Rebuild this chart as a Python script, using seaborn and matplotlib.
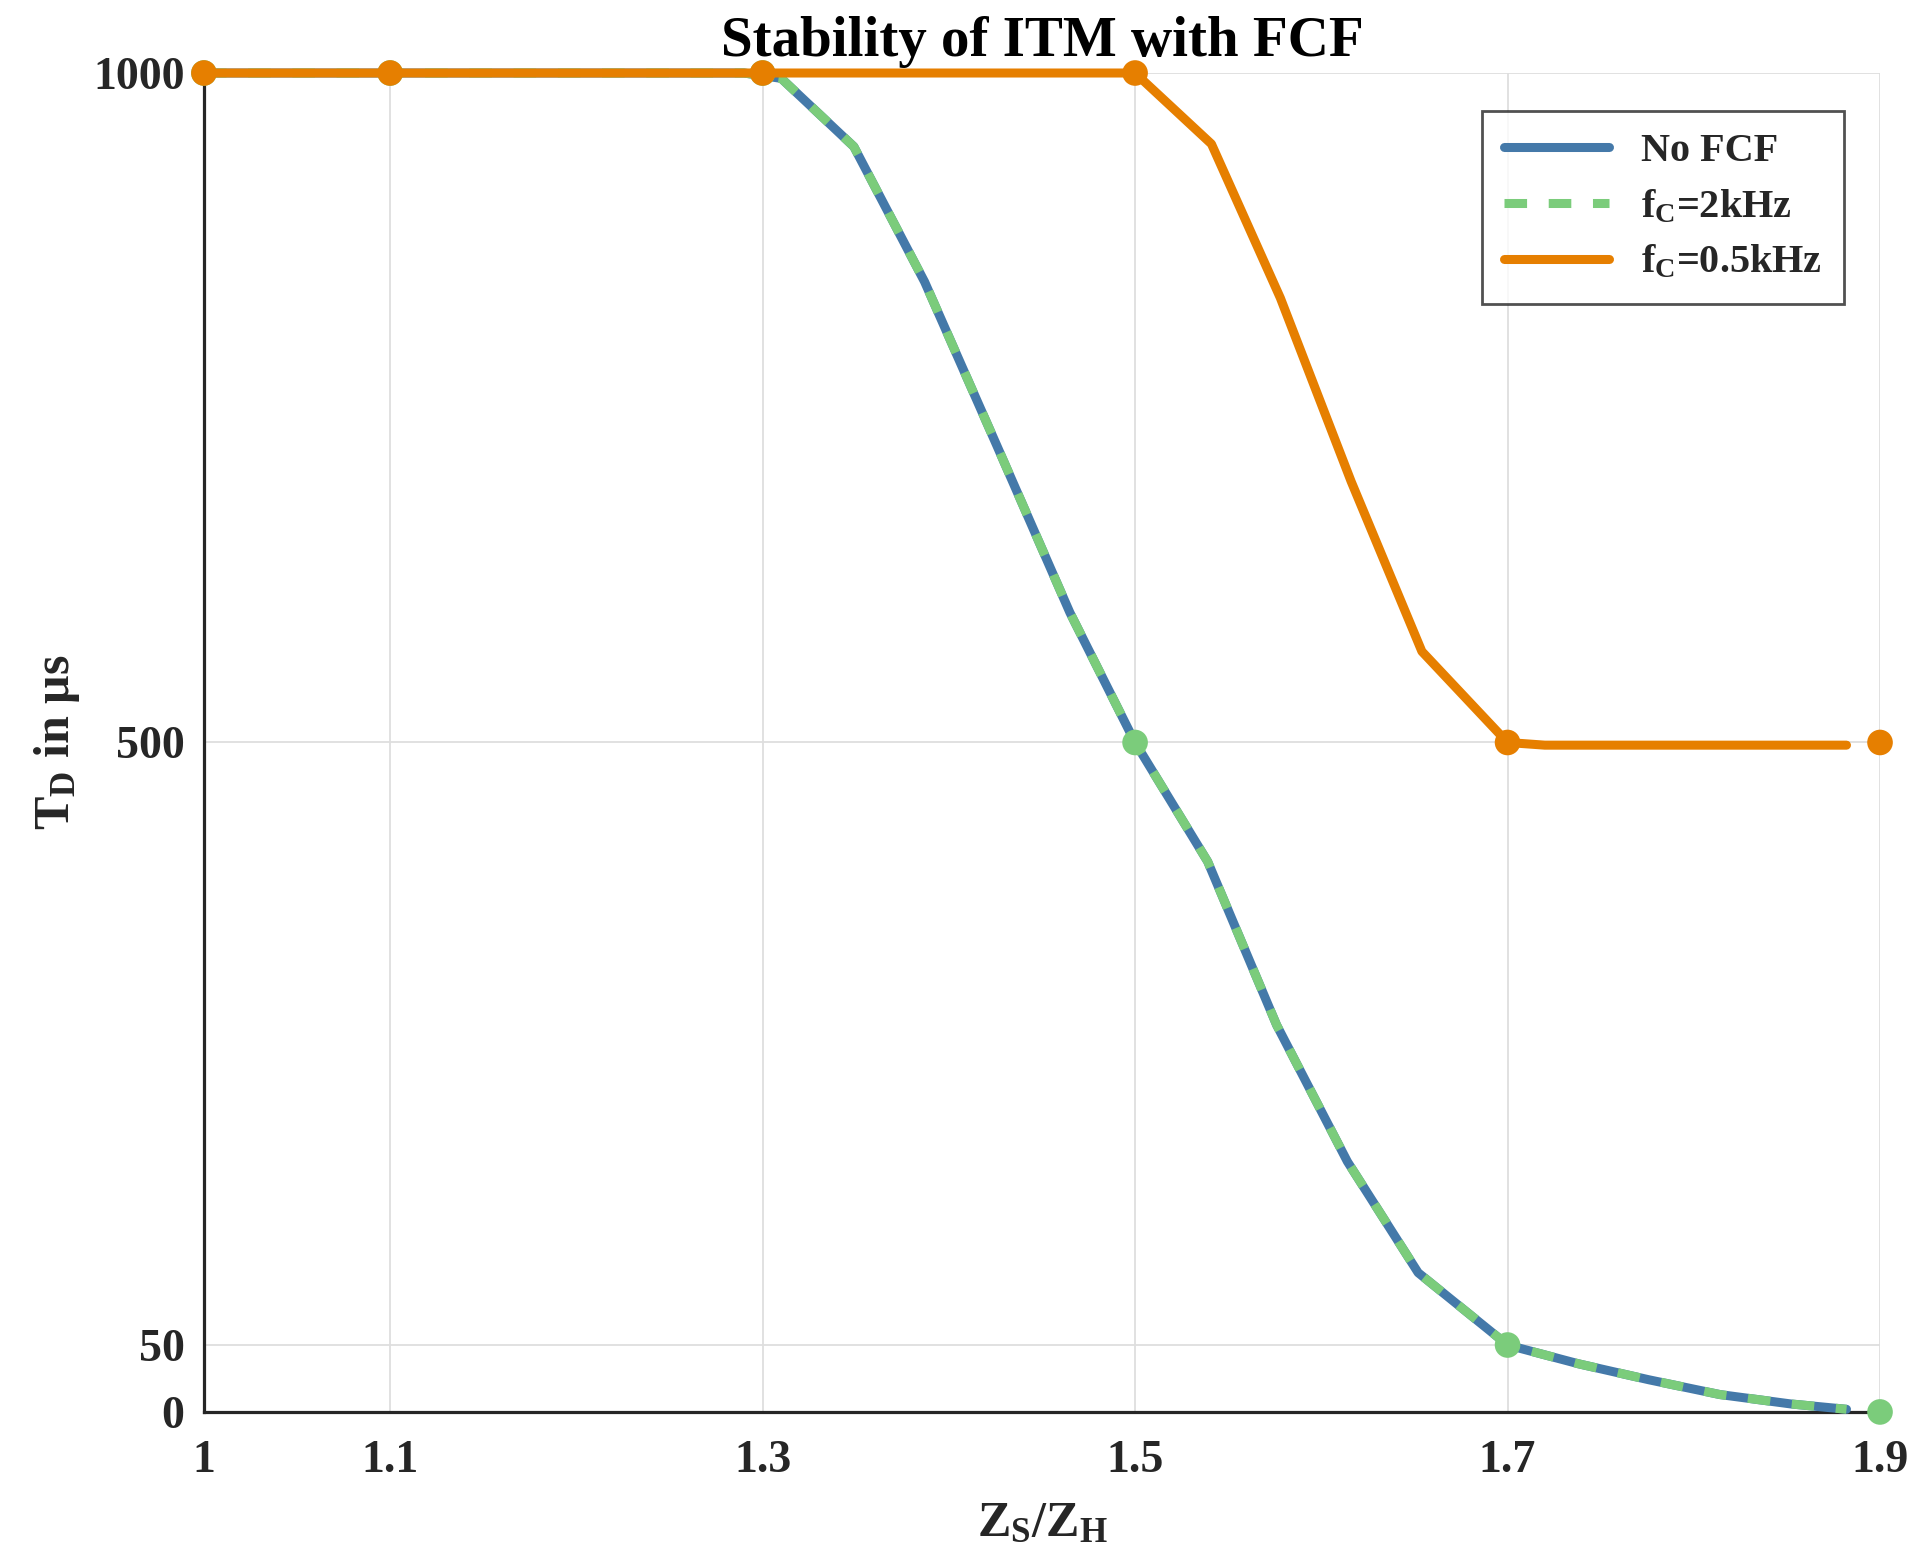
import numpy as np
import pandas as pd
import matplotlib
matplotlib.use("Agg")
import matplotlib.pyplot as plt
import seaborn as sns

# Z_S/Z_H ratio and delay T_D (us)
zr_nofcf = [1.0, 1.29, 1.31, 1.349, 1.387, 1.426, 1.465, 1.5, 1.539, 1.576,
            1.614, 1.652, 1.7, 1.738, 1.776, 1.814, 1.852, 1.882]
td_nofcf = [1000, 1000, 996, 945, 844, 721, 597, 500, 411, 289,
            187, 104, 50, 36, 24, 13, 6, 2]

zr_2k = [1.0, 1.29, 1.31, 1.349, 1.387, 1.426, 1.465, 1.5, 1.539, 1.576,
         1.614, 1.652, 1.7, 1.738, 1.776, 1.814, 1.852, 1.882]
td_2k = [1000, 1000, 996, 945, 844, 721, 597, 500, 411, 289,
         187, 104, 50, 36, 24, 13, 6, 2]

zr_05k = [1.0, 1.5, 1.541, 1.578, 1.616, 1.654, 1.7, 1.72, 1.882]
td_05k = [1000, 1000, 947, 832, 695, 568, 500, 498, 498]

# marked test points
zr_marks = [1.0, 1.1, 1.3, 1.5, 1.7, 1.9]
td_marks_2k = [1000, 1000, 1000, 500, 50, 0]
td_marks_05k = [1000, 1000, 1000, 1000, 500, 500]

x_ticks = [1.0, 1.1, 1.3, 1.5, 1.7, 1.9]
x_ticklabels = ['1', '1.1', '1.3', '1.5', '1.7', '1.9']
y_ticks = [0, 50, 500, 1000]

labels = ['No FCF', r'$\mathrm{f_C}$=2kHz', r'$\mathrm{f_C}$=0.5kHz']
c_blue = '#4479A9'
c_green = '#7BCC7B'
c_orange = '#E67F00'

sns.set_style('white')
plt.rcParams['font.family'] = ['Liberation Serif', 'DejaVu Serif']
plt.rcParams['font.weight'] = 'bold'
plt.rcParams['axes.labelweight'] = 'bold'
plt.rcParams['axes.titleweight'] = 'bold'
plt.rcParams['mathtext.fontset'] = 'custom'
plt.rcParams['mathtext.rm'] = 'Liberation Serif:bold'
plt.rcParams['mathtext.it'] = 'Liberation Serif:bold'
plt.rcParams['mathtext.bf'] = 'Liberation Serif:bold'

fig = plt.figure(figsize=(19.31, 15.60), dpi=100)
ax = fig.add_axes([0.1056, 0.0949, 0.8680, 0.8583])

lw = 6.5
sns.lineplot(x=zr_nofcf, y=td_nofcf, ax=ax, color=c_blue, lw=lw,
             label=labels[0], clip_on=False, zorder=3)
sns.lineplot(x=zr_2k, y=td_2k, ax=ax, color=c_green, lw=lw,
             ls=(0, (2.5, 2.4)), label=labels[1], clip_on=False, zorder=4)
sns.scatterplot(x=zr_marks, y=td_marks_2k, ax=ax, color=c_green, s=340,
                edgecolor='none', clip_on=False, zorder=5, legend=False)
sns.lineplot(x=zr_05k, y=td_05k, ax=ax, color=c_orange, lw=lw,
             label=labels[2], clip_on=False, zorder=6)
sns.scatterplot(x=zr_marks, y=td_marks_05k, ax=ax, color=c_orange, s=340,
                edgecolor='none', clip_on=False, zorder=7, legend=False)

ax.set_xlim(1.0, 1.9)
ax.set_ylim(0, 1000)
ax.set_xticks(x_ticks)
ax.set_xticklabels(x_ticklabels)
ax.set_yticks(y_ticks)
ax.tick_params(direction='in', length=13, width=2, labelsize=33,
               colors='#262626', pad=14)
ax.tick_params(axis='x', pad=20)
ax.grid(True, color='#DEDEDE', lw=1.3)
ax.set_axisbelow(True)

for side in ['top', 'right']:
    ax.spines[side].set_visible(False)
for side in ['left', 'bottom']:
    ax.spines[side].set_color('#262626')
    ax.spines[side].set_linewidth(2.3)

ax.set_title('Stability of ITM with FCF', fontsize=41, pad=12, color='black')
ax.set_xlabel(r'$\mathrm{Z_S/Z_H}$', fontsize=36, labelpad=14, color='#262626')
ax.set_ylabel(r'$\mathrm{T_D}$ in μs', fontsize=36, labelpad=8, color='#262626')

leg = ax.legend(loc='upper right', bbox_to_anchor=(0.9785, 0.9718),
                borderaxespad=0, fontsize=29, frameon=True, fancybox=False,
                handlelength=2.6, handletextpad=0.8, labelspacing=0.45,
                borderpad=0.55)
leg.get_frame().set_edgecolor('#262626')
leg.get_frame().set_linewidth(2.0)

fig.savefig('out.png', dpi=100)
